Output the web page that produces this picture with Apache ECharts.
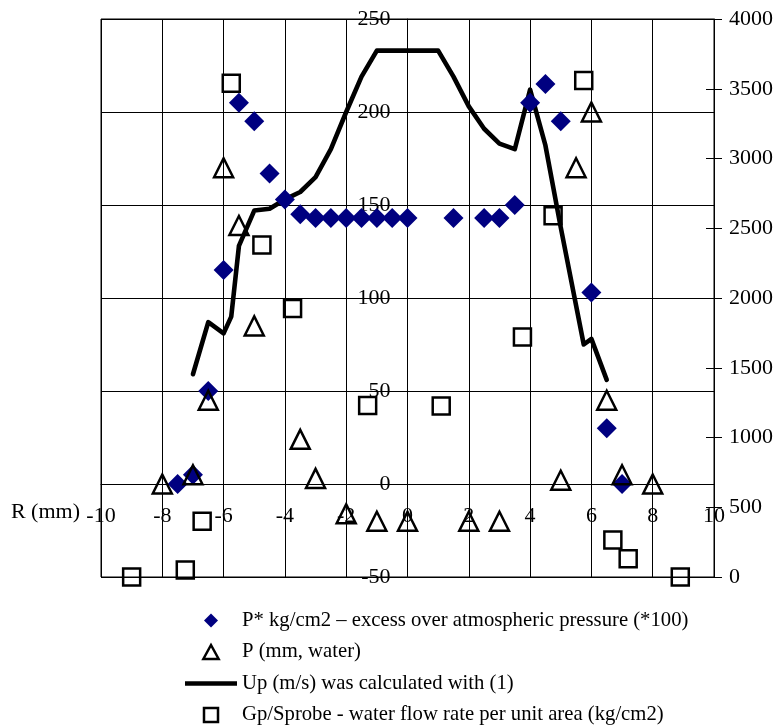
<!DOCTYPE html>
<html>
<head>
<meta charset="utf-8">
<script src="https://cdn.jsdelivr.net/npm/echarts@6/dist/echarts.min.js"></script>
<style>
  html, body { margin: 0; padding: 0; background: #fff; }
  #chart { width: 777px; height: 727px; }
</style>
</head>
<body>
<div id="chart"></div>
<script>
// Radial position (mm) and measured quantities
const pStarR   = [-7.5, -7, -6.5, -6, -5.5, -5, -4.5, -4, -3.5, -3, -2.5, -2, -1.5, -1, -0.5, 0, 1.5, 2.5, 3, 3.5, 4, 4.5, 5, 6, 6.5, 7];
const pStarVal = [0, 5, 50, 115, 205, 195, 167, 153, 145, 143, 143, 143, 143, 143, 143, 143, 143, 143, 143, 150, 205, 215, 195, 103, 30, 0];

const pWaterR   = [-8, -7, -6.5, -6, -5.5, -5, -3.5, -3, -2, -1, 0, 2, 3, 5, 5.5, 6, 6.5, 7, 8];
const pWaterVal = [0, 5, 45, 170, 139, 85, 24, 3, -16, -20, -20, -20, -20, 2, 170, 200, 45, 5, 0];

const upR   = [-7, -6.5, -6, -5.75, -5.5, -5, -4.5, -4, -3.5, -3, -2.5, -2, -1.5, -1, 0, 1, 1.5, 2, 2.5, 3, 3.5, 4, 4.5, 5, 5.75, 6, 6.5];
const upVal = [59, 87, 81, 90, 128, 147, 148, 153, 157, 165, 180, 200, 219, 233, 233, 233, 219, 203, 191, 183, 180, 212, 182, 138, 75, 78, 56];

const gpR   = [-9, -7.25, -6.7, -5.75, -4.75, -3.75, -1.3, 1.1, 3.75, 4.75, 5.75, 6.7, 7.2, 8.9];
const gpVal = [0, 50, 400, 3540, 2380, 1925, 1230, 1225, 1720, 2590, 3560, 265, 130, 0];

// Axis ranges
const X_MIN = -10, X_MAX = 10, X_STEP = 2;
const Y_MIN = -50, Y_MAX = 250, Y_STEP = 50;
const Y2_MIN = 0, Y2_MAX = 4000, Y2_STEP = 500;

const seriesNames = [
  'P* kg/cm2 \u2013 excess over atmospheric pressure (*100)',
  'P (mm, water)',
  'Up (m/s) was calculated with (1)',
  'Gp/Sprobe - water flow rate per unit area (kg/cm2)'
];

const pairs = (xs, ys) => xs.map((x, i) => [x, ys[i]]);

const W = 777, H = 727;
const GRID = { left: 101, right: 63, top: 19, bottom: 150 };
const gridW = W - GRID.left - GRID.right;
const gridH = H - GRID.top - GRID.bottom;
// shift the crossing axes so they run through zero of the other axis
const xAxisShift = -gridH * (0 - Y_MIN) / (Y_MAX - Y_MIN);
const yAxisShift = -gridW * (0 - X_MIN) / (X_MAX - X_MIN);

const FONT = "'Liberation Serif', 'Times New Roman', serif";
const chart = echarts.init(document.getElementById('chart'), null, { renderer: 'canvas' });

chart.setOption({
  animation: false,
  backgroundColor: '#fff',
  textStyle: { fontFamily: FONT, color: '#000' },
  grid: Object.assign({
    show: true, borderColor: '#000', borderWidth: 1, backgroundColor: 'transparent'
  }, GRID),
  legend: {
    orient: 'vertical',
    left: 185, top: 610, padding: 0,
    itemWidth: 52, itemHeight: 14, itemGap: 10.5,
    symbolKeepAspect: true,
    selectedMode: false,
    data: [
      { name: seriesNames[0], icon: 'path://M7,0L14,7L7,14L0,7Z' },
      { name: seriesNames[1], icon: 'path://M6,0L12,11L0,11Z', itemStyle: { borderWidth: 2.5 } },
      { name: seriesNames[2], icon: 'path://M0,0H52V4.5H0Z' },
      { name: seriesNames[3], icon: 'path://M0,0H11V11H0Z', itemStyle: { borderWidth: 2.5 } }
    ],
    textStyle: { fontFamily: FONT, fontSize: 20.7, color: '#000', lineHeight: 21 }
  },
  xAxis: {
    type: 'value', min: X_MIN, max: X_MAX, interval: X_STEP,
    offset: xAxisShift,
    name: 'R (mm)', nameLocation: 'start', nameGap: 21,
    nameTextStyle: { fontFamily: FONT, fontSize: 22, color: '#000', verticalAlign: 'top', padding: [17, 0, 0, 0] },
    axisLine: { onZero: false, lineStyle: { color: '#000', width: 1 } },
    axisTick: { show: false },
    axisLabel: { fontFamily: FONT, fontSize: 22, color: '#000', margin: 21, formatter: v => String(v) },
    splitLine: { show: true, lineStyle: { color: '#000', width: 1 } }
  },
  yAxis: [
    {
      type: 'value', min: Y_MIN, max: Y_MAX, interval: Y_STEP, position: 'left',
      offset: yAxisShift,
      axisLine: { show: true, onZero: false, lineStyle: { color: '#000', width: 1 } },
      axisTick: { show: false },
      axisLabel: { fontFamily: FONT, fontSize: 22, color: '#000', margin: 17, formatter: v => String(v) },
      splitLine: { show: true, lineStyle: { color: '#000', width: 1 } }
    },
    {
      type: 'value', min: Y2_MIN, max: Y2_MAX, interval: Y2_STEP, position: 'right',
      axisLine: { show: true, onZero: false, lineStyle: { color: '#000', width: 1 } },
      axisTick: { show: true, inside: false, length: 8, lineStyle: { color: '#000' } },
      axisLabel: { fontFamily: FONT, fontSize: 22, color: '#000', margin: 15, formatter: v => String(v) },
      splitLine: { show: false }
    },
    {
      // inner half of the cross ticks on the right axis
      type: 'value', min: Y2_MIN, max: Y2_MAX, interval: Y2_STEP, position: 'right',
      axisLine: { show: false, onZero: false },
      axisTick: { show: true, inside: true, length: 8, lineStyle: { color: '#000' } },
      axisLabel: { show: false },
      splitLine: { show: false }
    }
  ],
  series: [
    {
      name: seriesNames[0], type: 'scatter', yAxisIndex: 0, z: 3,
      symbol: 'diamond', symbolSize: 20,
      itemStyle: { color: '#000080', opacity: 1 },
      data: pairs(pStarR, pStarVal)
    },
    {
      name: seriesNames[1], type: 'scatter', yAxisIndex: 0, z: 4,
      symbol: 'triangle', symbolSize: [19, 19],
      itemStyle: { color: 'rgba(0,0,0,0)', borderColor: '#000', borderWidth: 2.5, opacity: 1 },
      data: pairs(pWaterR, pWaterVal)
    },
    {
      name: seriesNames[2], type: 'line', yAxisIndex: 0, z: 2,
      symbol: 'none', showSymbol: false,
      lineStyle: { color: '#000', width: 4.6, join: 'round', cap: 'round' },
      itemStyle: { color: '#000' },
      data: pairs(upR, upVal)
    },
    {
      name: seriesNames[3], type: 'scatter', yAxisIndex: 1, z: 4,
      symbol: 'rect', symbolSize: 17,
      itemStyle: { color: 'rgba(0,0,0,0)', borderColor: '#000', borderWidth: 2.5, opacity: 1 },
      data: pairs(gpR, gpVal)
    }
  ]
});
</script>
</body>
</html>
